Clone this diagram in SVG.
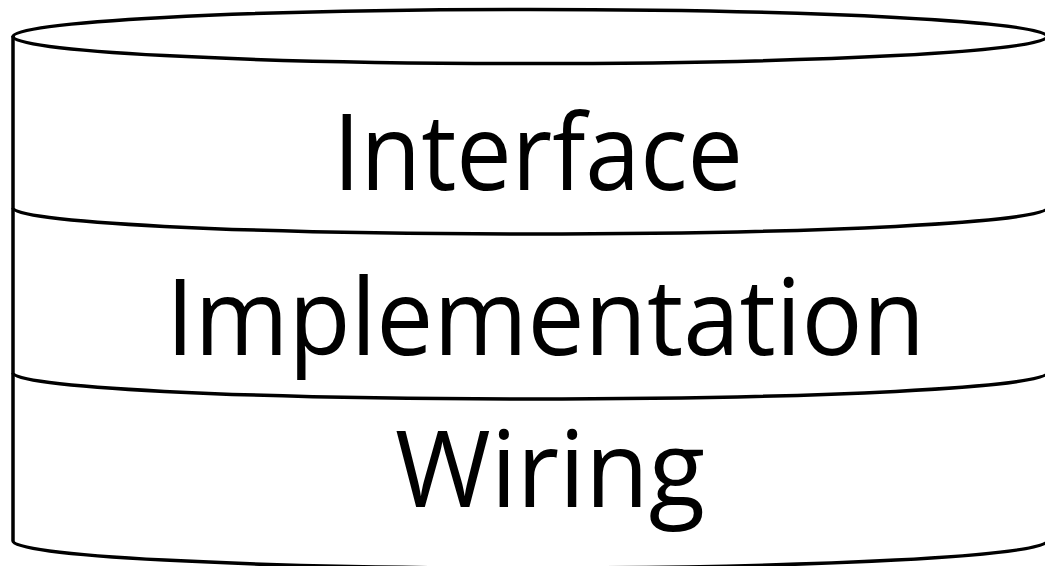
<svg xmlns="http://www.w3.org/2000/svg" width="1045" height="566" viewBox="0 0 1045 566">
<style>
.ln{fill:none;stroke:#000;stroke-width:3.5}
.lbl{font-family:"Open Sans","Liberation Sans",sans-serif;font-size:106px;fill:#000}
</style>
<rect width="1045" height="566" fill="#fff"/>
<g id="cylinder">
<path class="ln" d="M13,36 V541 A517,27 0 0 0 1047,541 V36"/>
<ellipse class="ln" cx="530" cy="36.5" rx="517" ry="27"/>
</g>
<g id="interface">
<text class="lbl" x="333" y="190" textLength="410" lengthAdjust="spacingAndGlyphs">Interface</text>
</g>
<g id="implementation">
<path class="ln" d="M13,208 A517,26 0 0 0 1047,208"/>
<text class="lbl" x="166" y="355" textLength="759" lengthAdjust="spacingAndGlyphs">Implementation</text>
</g>
<g id="wiring">
<path class="ln" d="M13,373 A517,26 0 0 0 1047,373"/>
<text class="lbl" x="395" y="507" textLength="310" lengthAdjust="spacingAndGlyphs">Wiring</text>
</g>
</svg>
